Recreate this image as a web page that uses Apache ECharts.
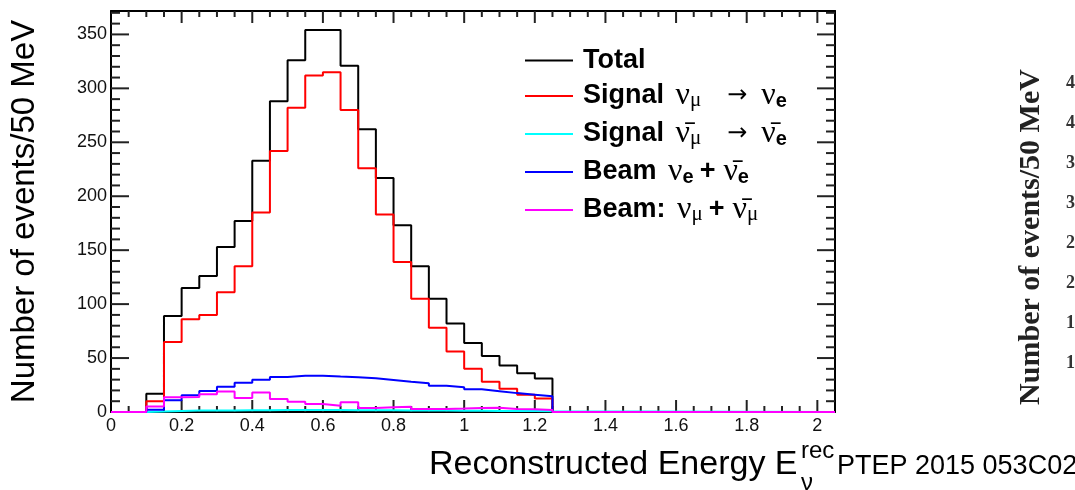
<!DOCTYPE html>
<html>
<head>
<meta charset="utf-8">
<script src="https://cdn.jsdelivr.net/npm/echarts@6/dist/echarts.min.js"></script>
<style>
body{margin:0;background:#fff;}
#main{width:1075px;height:490px;}
</style>
</head>
<body>
<div id="main"></div>
<script>
// bins of 50 MeV, lower edges (GeV)
var binLow = [0.10,0.15,0.20,0.25,0.30,0.35,0.40,0.45,0.50,0.55,0.60,0.65,0.70,0.75,0.80,0.85,0.90,0.95,1.00,1.05,1.10,1.15,1.20];
var binWidth = 0.05;
var xRange = [0, 2.05];
var yMax = 371.7;

var totalVals   = [17,89,115,126,153,177,233,288,326,354,354,321,262,217,173,135,105,82,64,52,43,36,31];
var signalVals  = [10,65,86,90,111,135,185,242,282,312,315,280,226,183,139,105,78,56,40,28,21.5,16,12.5];
var antiSigVals = [0.5,1.0,1.3,1.4,1.5,1.6,1.7,1.8,1.8,1.8,1.8,1.7,1.7,1.6,1.5,1.4,1.3,1.2,1.1,1.0,1.0,0.9,0.8];
var beamNueVals = [2,11,15.5,19.5,23.5,27,30,32.5,33.5,33.5,32.8,32.2,31.2,29.7,28.1,26.6,24.4,22.9,21,19.3,17.5,16,14.5];
var beamNumuVals= [5,13.6,14,16.5,19,13,18,12,9.6,7.4,5.8,9,3.6,4.4,4.9,2.8,2.8,3.2,3.8,4,2.8,2.5,1.9];

var xTickLabels = ['0','0.2','0.4','0.6','0.8','1','1.2','1.4','1.6','1.8','2'];
var yTickLabels = ['0','50','100','150','200','250','300','350'];
var rightTickLabels = ['450','400','350','300','250','200','150','100'];
// frame tick marks (ROOT style, mirrored on all four sides)
var xTickVals = [0.05,0.1,0.15,0.2,0.25,0.3,0.35,0.4,0.45,0.5,0.55,0.6,0.65,0.7,0.75,0.8,0.85,0.9,0.95,1,
                 1.05,1.1,1.15,1.2,1.25,1.3,1.35,1.4,1.45,1.5,1.55,1.6,1.65,1.7,1.75,1.8,1.85,1.9,1.95,2];
var yTickVals = [10,20,30,40,50,60,70,80,90,100,110,120,130,140,150,160,170,180,190,200,
                 210,220,230,240,250,260,270,280,290,300,310,320,330,340,350,360,370];

var seriesNames = ['Total','Signal numu->nue','Signal numubar->nuebar','Beam nue+nuebar','Beam: numu+numubar'];
var legendText = [
	'{b|Total}',
	'{b|Signal }{nu|\u03bd}{mu|\u03bc}{ar|\u2192}{nu|\u03bd}{e|e}',
	'{b|Signal }{nu|\u03bd\u0304}{mu|\u03bc}{ar|\u2192}{nu|\u03bd\u0304}{e|e}',
	'{b|Beam }{nu|\u03bd}{e|e}{pl|+}{nu|\u03bd\u0304}{e|e}',
	'{b|Beam: }{nu|\u03bd}{mu|\u03bc}{pl|+}{nu|\u03bd\u0304}{mu|\u03bc}'
];
var seriesColors = ['#000000','#ff0000','#00ffff','#0000ff','#ff00ff'];

function histPoints(values){
	var pts = [[xRange[0], 0]];
	for (var i = 0; i < binLow.length; i++) {
		pts.push([binLow[i], values[i]]);
	}
	pts.push([binLow[binLow.length - 1] + binWidth, 0]);
	pts.push([xRange[1], 0]);
	return pts;
}

function tickLine(x1, y1, x2, y2){
	return {type: 'line', shape: {x1: x1, y1: y1, x2: x2, y2: y2}, style: {stroke: '#222', lineWidth: 2}};
}

//ticks at left+right frame
function renderYTick(params, api){
	var v = api.value(1);
	var len = v % 50 === 0 ? 18 : 9;
	var pl = api.coord([xRange[0], v]);
	var pr = api.coord([xRange[1], v]);
	return {type: 'group', children: [tickLine(pl[0], pl[1], pl[0] + len, pl[1]), tickLine(pr[0] - len, pr[1], pr[0], pr[1])]};
}
//ticks at bottom+top frame
function renderXTick(params, api){
	var v = api.value(0);
	var len = Math.abs(v * 5 - Math.round(v * 5)) < 1e-6 ? 12 : 6;
	var pb = api.coord([v, 0]);
	var pt = api.coord([v, yMax]);
	return {type: 'group', children: [tickLine(pb[0], pb[1], pb[0], pb[1] - len), tickLine(pt[0], pt[1], pt[0], pt[1] + len)]};
}

function makeAxis(dim, pos, withLabel){
	var ax = {
		type: 'value',
		position: pos,
		min: 0,
		max: dim == 'x' ? xRange[1] : yMax,
		interval: dim == 'x' ? 0.2 : 50,
		axisLine: {show: true, onZero: false, lineStyle: {color: '#000', width: 2}},
		axisTick: {show: false},
		splitLine: {show: false},
		axisLabel: {show: false}
	};
	if (withLabel) {
		ax.axisLabel = {
			show: true,
			margin: dim == 'x' ? 5 : 4,
			color: '#111',
			fontSize: 18,
			fontFamily: 'Liberation Sans',
			formatter: function (v) {
				var s = String(Math.round(v * 10) / 10);
				var list = dim == 'x' ? xTickLabels : yTickLabels;
				return list.indexOf(s) >= 0 ? s : '';
			}
		};
	}
	return ax;
}

function initChart(){
	var series = [];
	var allVals = [totalVals, signalVals, antiSigVals, beamNueVals, beamNumuVals];
	for (var i = 0; i < allVals.length; i++) {
		series.push({
			name: seriesNames[i],
			type: 'line',
			step: 'end',
			symbol: 'none',
			clip: false,
			z: 3,
			color: seriesColors[i],
			lineStyle: {color: seriesColors[i], width: 2},
			data: histPoints(allVals[i])
		});
	}
	series.push({
		name: 'yTicks', type: 'custom', silent: true, z: 2,
		renderItem: renderYTick,
		data: yTickVals.map(function (v) { return [xRange[0], v]; })
	});
	series.push({
		name: 'xTicks', type: 'custom', silent: true, z: 2,
		renderItem: renderXTick,
		data: xTickVals.map(function (v) { return [v, 0]; })
	});

	var yMain = makeAxis('y', 'left', true);
	yMain.name = 'Number of events/50 MeV';
	yMain.nameLocation = 'middle';
	yMain.nameRotate = 90;
	yMain.nameGap = 70;
	yMain.nameTextStyle = {fontSize: 33, fontFamily: 'Liberation Sans', color: '#000'};

	var graphics = [
		{type: 'text', x: 429, y: 465, style: {text: 'Reconstructed Energy E', fontSize: 34, fontFamily: 'Liberation Sans', fill: '#000', align: 'left', verticalAlign: 'middle'}},
		{type: 'text', x: 801, y: 451, style: {text: 'rec', fontSize: 24, fontFamily: 'Liberation Sans', fill: '#000', align: 'left', verticalAlign: 'middle'}},
		{type: 'text', x: 801, y: 483, style: {text: '\u03bd', fontSize: 24, fontFamily: 'Liberation Sans', fill: '#000', align: 'left', verticalAlign: 'middle'}},
		{type: 'text', x: 837, y: 467, style: {text: 'PTEP 2015 053C02', fontSize: 27, fontFamily: 'Liberation Sans', fill: '#000', align: 'left', verticalAlign: 'middle'}},
		//neighbouring figure, cut off at the edge
		{type: 'text', x: 1031, y: 237, rotation: Math.PI / 2, style: {text: 'Number of events/50 MeV', fontSize: 30, fontWeight: 'bold', fontFamily: 'Liberation Serif', fill: '#222', align: 'center', verticalAlign: 'middle'}}
	];
	for (var k = 0; k < rightTickLabels.length; k++) {
		graphics.push({type: 'text', x: 1066, y: 83 + k * 40, style: {text: rightTickLabels[k], fontSize: 18, fontWeight: 'bold', fontFamily: 'Liberation Serif', fill: '#333', align: 'left', verticalAlign: 'middle'}});
	}

	var option = {
		animation: false,
		backgroundColor: '#fff',
		grid: {left: 111, right: 240, top: 11, bottom: 78},
		xAxis: [
			makeAxis('x', 'bottom', true),
			makeAxis('x', 'top', false)
		],
		yAxis: [
			yMain,
			makeAxis('y', 'right', false)
		],
		legend: {
			orient: 'vertical',
			left: 525,
			top: 47,
			padding: 0,
			itemWidth: 48,
			itemHeight: 2,
			itemGap: 6,
			icon: 'rect',
			selectedMode: false,
			data: seriesNames,
			formatter: function (name) {
				return legendText[seriesNames.indexOf(name)];
			},
			textStyle: {
				padding: [0, 0, 0, 5],
				rich: {
					b: {fontFamily: 'Liberation Sans', fontWeight: 'bold', fontSize: 27, lineHeight: 30, padding: [0, 4, 0, 0], color: '#000'},
					nu: {fontFamily: 'Liberation Serif', fontSize: 32, lineHeight: 30, color: '#000'},
					mu: {fontFamily: 'Liberation Serif', fontSize: 21, lineHeight: 10, verticalAlign: 'bottom', color: '#000'},
					e: {fontFamily: 'Liberation Sans', fontWeight: 'bold', fontSize: 20, lineHeight: 10, verticalAlign: 'bottom', color: '#000'},
					ar: {fontFamily: 'DejaVu Sans', fontSize: 24, lineHeight: 30, padding: [0, 14, 0, 26], color: '#000'},
					pl: {fontFamily: 'Liberation Sans', fontWeight: 'bold', fontSize: 27, lineHeight: 30, padding: [0, 8, 0, 6], color: '#000'}
				}
			}
		},
		graphic: graphics,
		series: series
	};
	var myChart = echarts.init(document.getElementById('main'));
	myChart.setOption(option);
}
initChart();
</script>
</body>
</html>
